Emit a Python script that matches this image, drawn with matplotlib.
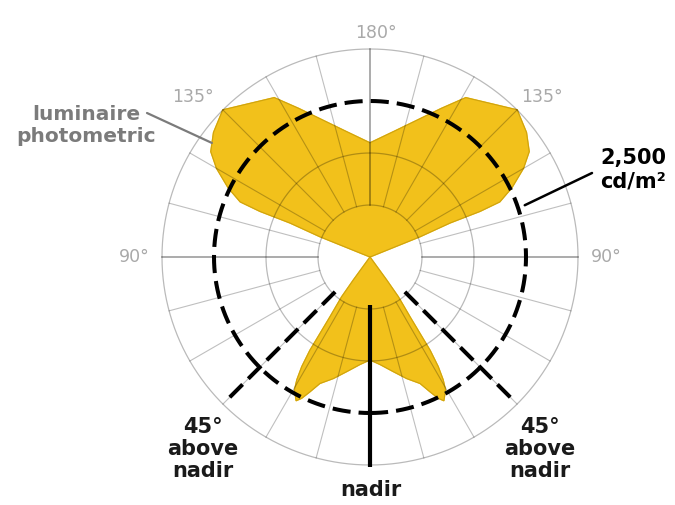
import numpy as np
import matplotlib
matplotlib.use("Agg")
import matplotlib.pyplot as plt

# luminance reference circle (cd/m2) and grid rings
REF = 2500
rings = [REF / 3, 2 * REF / 3, 4 * REF / 3]
spoke_step = 15

# photometric outline, right half (angle from nadir in degrees, luminance cd/m2)
down_theta = [0, 5.3, 11.5, 16.8, 21.6, 24, 25.8, 27.2, 29.6, 30.8, 31.9, 32.8, 33.2, 33.8, 35.5, 36, 36]
down_lum = [1650, 1730, 1875, 2035, 2180, 2365, 2515, 2590, 2450, 2290, 2070, 1780, 1460, 1155, 785, 450, 0]
up_theta = [112, 112, 113, 112.5, 113, 116, 120, 123.5, 128.5, 135, 149, 154.4, 160.9, 169.3, 180]
up_lum = [0, 865, 1395, 1910, 2260, 2530, 2840, 3060, 3205, 3335, 2980, 2640, 2324, 2047, 1830]

cutoff_angle = 45
angle_labels = ["180°", "135°", "135°", "90°", "90°"]

# build the full symmetric outline
right_t = down_theta + up_theta
right_r = down_lum + up_lum
left_t = [360 - t for t in right_t[::-1]][1:-1]
left_r = right_r[::-1][1:-1]
theta = np.radians(right_t + left_t)
lum = np.array(right_r + left_r)

fig = plt.figure(figsize=(6.75, 5.05), dpi=100)
R = 3500
rpx = R * 156 / REF
cx, cy = 370, 257
ax = fig.add_axes([(cx - rpx) / 675, (505 - cy - rpx) / 505, 2 * rpx / 675, 2 * rpx / 505],
                  projection="polar")
ax.set_theta_zero_location("S")
ax.set_theta_direction(1)
ax.set_ylim(0, R)
ax.axis("off")

# yellow photometric shape
ax.fill(theta, lum, color="#F2C11B", zorder=1)
ax.plot(np.append(theta, theta[0]), np.append(lum, lum[0]), color="#CFA30E", lw=0.8, zorder=1.5)

# grid
circ = np.linspace(0, 2 * np.pi, 721)
for rr in rings:
    ax.plot(circ, np.full_like(circ, rr), color="black", alpha=0.27, lw=0.9, zorder=2)
for a in range(spoke_step, 360, spoke_step):
    main = a in (90, 180, 270)
    ax.plot([np.radians(a)] * 2, [rings[0], rings[-1]], color="black",
            alpha=0.42 if main else 0.25, lw=1.1 if main else 0.8, zorder=2)

# 2,500 cd/m2 dashed circle and 45 deg cutoff lines
dash = (0, (4.5, 2.0))
ax.plot(circ, np.full_like(circ, REF), color="black", lw=2.9, linestyle=dash, zorder=3)
for a in (cutoff_angle, 360 - cutoff_angle):
    ax.plot([np.radians(a)] * 2, [790, 3290], color="black", lw=2.9, linestyle=dash, zorder=3)

# nadir line
ax.plot([0, 0], [770, 3365], color="black", lw=3.0, solid_capstyle="butt", zorder=3)


def fx(x, y):
    return x / 675, 1 - y / 505


# degree labels
for txt, (x, y) in zip(angle_labels, [(376, 33), (193, 97), (542, 97), (134, 257), (606, 257)]):
    fig.text(*fx(x, y), txt, ha="center", va="center", fontsize=12.5, color="#a9a9a9")

# callouts
fig.text(*fx(86, 125), "luminaire\nphotometric", ha="center", va="center", fontsize=14.5,
         fontweight="bold", color="#7b7b7b", linespacing=1.2)
ax.annotate("", xy=(np.radians(234.2), 3125), xytext=(147, 505 - 113), textcoords="figure pixels",
            arrowprops=dict(arrowstyle="-", color="#7b7b7b", lw=1.6, shrinkA=0, shrinkB=0))

fig.text(*fx(633, 170), "2,500\ncd/m²", ha="center", va="center", fontsize=15,
         fontweight="bold", color="black", linespacing=1.2)
ax.annotate("", xy=(np.radians(108.5), 2615), xytext=(592, 505 - 173), textcoords="figure pixels",
            arrowprops=dict(arrowstyle="-", color="black", lw=1.8, shrinkA=0, shrinkB=0))

for x in (203, 540):
    fig.text(*fx(x, 449), "45°\nabove\nnadir", ha="center", va="center", fontsize=15,
             fontweight="bold", color="#1a1a1a", linespacing=1.15)
fig.text(*fx(371, 490), "nadir", ha="center", va="center", fontsize=15,
         fontweight="bold", color="#1a1a1a")

fig.savefig("out.png", dpi=100)
